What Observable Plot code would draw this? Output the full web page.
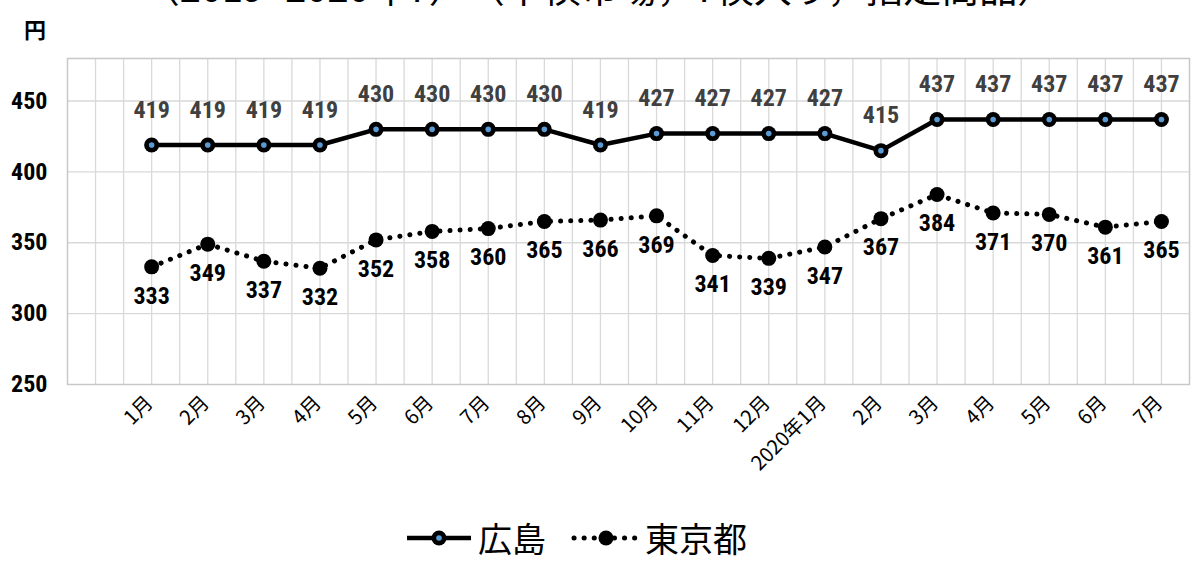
<!DOCTYPE html>
<html>
<head>
<meta charset="utf-8">
<script src="https://cdn.jsdelivr.net/npm/d3@7"></script>
<script src="https://cdn.jsdelivr.net/npm/@observablehq/plot@0.6"></script>
<style>
  html, body { margin: 0; padding: 0; background: #fff; }
  #wrap { position: relative; width: 1197px; height: 565px; overflow: hidden; font-family: "Noto Sans CJK JP", "Noto Sans", sans-serif; }
  #title { position: absolute; left: 0; width: 1197px; text-align: center; top: -37px; font-size: 38px; line-height: 1.2; white-space: pre; color: #000; }
  #unit { position: absolute; left: 24px; top: 17px; font-size: 22px; line-height: 1; font-weight: bold; }
  #legend { position: absolute; left: 0; top: 521px; width: 1150px; display: flex; justify-content: center; align-items: center; font-size: 34px; line-height: 1; color: #000; }
  #legend .item { display: flex; align-items: center; margin: 0 12px; }
  #legend svg { margin-right: 3px; }
  #chart { position: absolute; left: 0; top: 0; }
</style>
</head>
<body>
<div id="wrap">
  <div id="title"></div>
  <div id="unit"></div>
  <div id="chart"></div>
  <div id="legend"></div>
</div>
<script>
// ---- data ----
const months = ["1月","2月","3月","4月","5月","6月","7月","8月","9月","10月","11月","12月","2020年1月","2月","3月","4月","5月","6月","7月"];
const hiroshima = [419,419,419,419,430,430,430,430,419,427,427,427,427,415,437,437,437,437,437];
const tokyo = [333,349,337,332,352,358,360,365,366,369,341,339,347,367,384,371,370,361,365];
const yTicks = [250,300,350,400,450];
const seriesNames = ["広島","東京都"];
const titleText = "（2019~2020年7）　（中横市場，7検入り，指定商品）";
const unitText = "円";

const numFont = "'Liberation Sans Narrow','Arial Narrow','Roboto Condensed','DejaVu Sans Condensed','Liberation Sans',sans-serif";
const rows = months.map((m, i) => ({i, m, h: hiroshima[i], t: tokyo[i]}));
const gridX = d3.range(-1.0, 18.5, 0.5);

document.getElementById("title").textContent = titleText;
document.getElementById("unit").textContent = unitText;

const chart = Plot.plot({
  width: 1197,
  height: 565,
  marginTop: 58,
  marginBottom: 181,
  marginLeft: 67,
  marginRight: 8,
  x: {type: "linear", domain: [-1.5, 18.5]},
  y: {domain: [250, 480]},
  style: {background: "transparent", overflow: "visible"},
  marks: [
    Plot.ruleX(gridX, {x: d => d, stroke: "#d9d9d9", strokeWidth: 1.3, strokeOpacity: 1}),
    Plot.ruleY(yTicks.slice(1), {y: d => d, stroke: "#d9d9d9", strokeWidth: 1.3, strokeOpacity: 1}),
    Plot.frame({stroke: "#c8c8c8", strokeWidth: 1.5}),
    Plot.axisY({ticks: yTicks, tickSize: 0, tickPadding: 20, fontSize: 24, fontWeight: "bold", fontFamily: numFont, fill: "#000", label: null}),
    Plot.axisX({ticks: d3.range(0, months.length), tickFormat: i => months[i], tickSize: 0, tickPadding: 15, tickRotate: -45, textAnchor: "end", dx: -2, fontSize: 20, fontFamily: "'Noto Sans CJK JP', sans-serif", fill: "#000", label: null}),
    // Tokyo
    Plot.line(rows, {x: "i", y: "t", stroke: "#000", strokeWidth: 5, strokeDasharray: "0.1 10", strokeLinecap: "round"}),
    Plot.dot(rows, {x: "i", y: "t", r: 7.5, fill: "#000"}),
    // Hiroshima
    Plot.line(rows, {x: "i", y: "h", stroke: "#000", strokeWidth: 4.5}),
    Plot.dot(rows, {x: "i", y: "h", r: 7.5, fill: "#000"}),
    Plot.dot(rows, {x: "i", y: "h", r: 2.8, fill: "#5B9BD5"}),
    // labels
    Plot.text(rows, {x: "i", y: "h", text: d => String(d.h), dy: -35, fontSize: 24, fontWeight: "bold", fontFamily: numFont, fill: "#404040"}),
    Plot.text(rows, {x: "i", y: "t", text: d => String(d.t), dy: 29, fontSize: 24, fontWeight: "bold", fontFamily: numFont, fill: "#000"})
  ]
});
document.getElementById("chart").appendChild(chart);

// legend
const legend = document.getElementById("legend");
function item(name, solid) {
  const div = document.createElement("div");
  div.className = "item";
  const ns = "http://www.w3.org/2000/svg";
  const svg = document.createElementNS(ns, "svg");
  svg.setAttribute("width", 72); svg.setAttribute("height", 24);
  const line = document.createElementNS(ns, "line");
  line.setAttribute("x1", 4); line.setAttribute("x2", 68); line.setAttribute("y1", 12); line.setAttribute("y2", 12);
  line.setAttribute("stroke", "#000");
  if (solid) { line.setAttribute("stroke-width", 4.5); }
  else { line.setAttribute("stroke-width", 5); line.setAttribute("stroke-dasharray", "0.1 10"); line.setAttribute("stroke-linecap", "round"); }
  svg.appendChild(line);
  const c = document.createElementNS(ns, "circle");
  c.setAttribute("cx", 36); c.setAttribute("cy", 12); c.setAttribute("r", 7.5); c.setAttribute("fill", "#000");
  svg.appendChild(c);
  if (solid) {
    const c2 = document.createElementNS(ns, "circle");
    c2.setAttribute("cx", 36); c2.setAttribute("cy", 12); c2.setAttribute("r", 2.8); c2.setAttribute("fill", "#5B9BD5");
    svg.appendChild(c2);
  }
  div.appendChild(svg);
  const span = document.createElement("span");
  span.textContent = name;
  div.appendChild(span);
  return div;
}
legend.appendChild(item(seriesNames[0], true));
legend.appendChild(item(seriesNames[1], false));
</script>
</body>
</html>
